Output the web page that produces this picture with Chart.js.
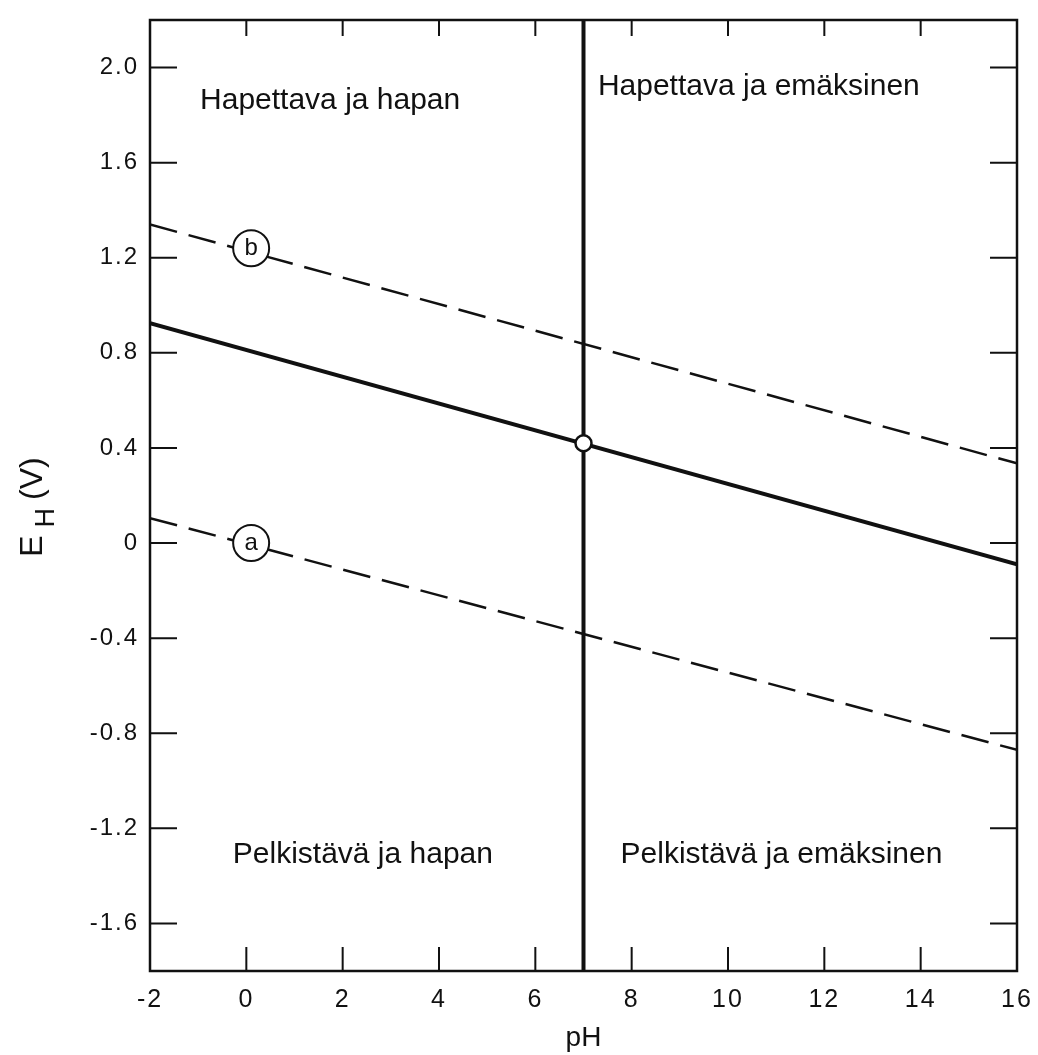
<!DOCTYPE html>
<html>
<head>
<meta charset="utf-8">
<script src="https://cdn.jsdelivr.net/npm/chart.js@4.4.1/dist/chart.umd.min.js"></script>
<style>
  html, body { margin: 0; padding: 0; background: #fff; }
  #wrap { width: 1038px; height: 1055px; }
</style>
</head>
<body>
<div id="wrap"><canvas id="eh" width="1038" height="1055"></canvas></div>
<script>
// --- data ---
const xTicks = [-2, 0, 2, 4, 6, 8, 10, 12, 14, 16];
const xTickLabels = ['-2', '0', '2', '4', '6', '8', '10', '12', '14', '16'];
const yTicks = [-1.6, -1.2, -0.8, -0.4, 0, 0.4, 0.8, 1.2, 1.6, 2.0];
const yTickLabels = ['-1.6', '-1.2', '-0.8', '-0.4', '0', '0.4', '0.8', '1.2', '1.6', '2.0'];

// pH 7 divider
const neutralPH = [7, 7];
const neutralE = [-1.8, 2.2];
// solid line
const solidPH = [-2, 16];
const solidE = [0.925, -0.09];
// dashed line b (upper)
const upperPH = [-2, 16];
const upperE = [1.34, 0.335];
// dashed line a (lower)
const lowerPH = [-2, 16];
const lowerE = [0.105, -0.87];
// circled letters on the dashed lines
const markerPH = [0.1, 0.1];
const markerE = [1.24, 0];
const markerText = ['b', 'a'];
// crossing point
const crossPH = [7];
const crossE = [0.42];
// region captions (baseline anchor in data units)
const regionText = ['Hapettava ja hapan', 'Hapettava ja emäksinen', 'Pelkistävä ja hapan', 'Pelkistävä ja emäksinen'];
const regionPH = [1.74, 10.64, 2.42, 11.11];
const regionE = [1.827, 1.886, -1.347, -1.347];

const pts = (xs, ys) => xs.map((x, i) => ({ x: x, y: ys[i] }));
const INK = '#111';
const FONT = "'Liberation Sans', Arial, sans-serif";

// frame, inward ticks, captions, axis titles
const decor = {
    id: 'decor',
    beforeDraw(chart) {
        // the scanned lettering on the axes is widely spaced
        chart.ctx.letterSpacing = '2px';
    },
    afterDatasetsDraw(chart) {
        const ctx = chart.ctx;
        const a = chart.chartArea;
        const xs = chart.scales.x, ys = chart.scales.y;
        ctx.save();
        ctx.letterSpacing = '0px';
        ctx.strokeStyle = INK;
        ctx.lineWidth = 2.5;
        ctx.strokeRect(a.left, a.top, a.right - a.left, a.bottom - a.top);

        ctx.lineWidth = 2;
        ctx.beginPath();
        xTicks.forEach(v => {
            if (v === xs.min || v === xs.max) return;
            const px = xs.getPixelForValue(v);
            ctx.moveTo(px, a.bottom); ctx.lineTo(px, a.bottom - 24);
            ctx.moveTo(px, a.top); ctx.lineTo(px, a.top + 16);
        });
        yTicks.forEach(v => {
            const py = ys.getPixelForValue(v);
            ctx.moveTo(a.left, py); ctx.lineTo(a.left + 27, py);
            ctx.moveTo(a.right, py); ctx.lineTo(a.right - 27, py);
        });
        ctx.stroke();

        // region captions
        ctx.fillStyle = INK;
        ctx.font = '30px ' + FONT;
        ctx.textAlign = 'center';
        ctx.textBaseline = 'alphabetic';
        regionText.forEach((t, i) => {
            ctx.fillText(t, xs.getPixelForValue(regionPH[i]), ys.getPixelForValue(regionE[i]));
        });

        // letters inside circles
        const meta = chart.getDatasetMeta(4);
        ctx.font = '24px ' + FONT;
        ctx.textBaseline = 'middle';
        meta.data.forEach((el, i) => {
            ctx.fillText(markerText[i], el.x, el.y);
        });

        // x title
        ctx.font = '28px ' + FONT;
        ctx.textBaseline = 'alphabetic';
        ctx.fillText('pH', (a.left + a.right) / 2, 1046);

        // y title E_H (V), rotated
        ctx.translate(42, 507);
        ctx.rotate(-Math.PI / 2);
        ctx.textAlign = 'left';
        const big = '32px ' + FONT, small = '27px ' + FONT;
        ctx.font = big;
        const wE = ctx.measureText('E').width;
        const wV = ctx.measureText('(V)').width;
        ctx.font = small;
        const wH = ctx.measureText('H').width;
        const gap = 8;
        let x = -(wE + gap + wH + gap + wV) / 2;
        ctx.font = big;
        ctx.fillText('E', x, 0);
        x += wE + gap;
        ctx.font = small;
        ctx.fillText('H', x, 12);
        x += wH + gap;
        ctx.font = big;
        ctx.fillText('(V)', x, 0);
        ctx.restore();
    }
};

const lineStyle = (w, dash) => ({
    showLine: true,
    borderColor: INK,
    borderWidth: w,
    borderDash: dash || [],
    pointRadius: 0,
    pointHoverRadius: 0,
    fill: false,
    order: 3
});

new Chart(document.getElementById('eh').getContext('2d'), {
    type: 'scatter',
    data: {
        datasets: [
            Object.assign({ label: 'pH 7', data: pts(neutralPH, neutralE) }, lineStyle(4)),
            Object.assign({ label: 'solid', data: pts(solidPH, solidE) }, lineStyle(4)),
            Object.assign({ label: 'b', data: pts(upperPH, upperE) }, lineStyle(2.5, [28, 12])),
            Object.assign({ label: 'a', data: pts(lowerPH, lowerE) }, lineStyle(2.5, [28, 12])),
            {
                label: 'markers',
                data: pts(markerPH, markerE),
                showLine: false,
                pointRadius: 18,
                pointBackgroundColor: '#fff',
                pointBorderColor: INK,
                pointBorderWidth: 2,
                order: 1
            },
            {
                label: 'cross',
                data: pts(crossPH, crossE),
                showLine: false,
                pointRadius: 8,
                pointBackgroundColor: '#fff',
                pointBorderColor: INK,
                pointBorderWidth: 2.5,
                order: 1
            }
        ]
    },
    options: {
        responsive: false,
        animation: false,
        events: [],
        layout: { padding: { top: 17, right: 21, left: 0, bottom: 0 } },
        plugins: { legend: { display: false }, tooltip: { enabled: false } },
        scales: {
            x: {
                type: 'linear',
                min: -2,
                max: 16,
                grid: { display: false, drawTicks: false },
                border: { display: false },
                afterBuildTicks: s => { s.ticks = xTicks.map(v => ({ value: v })); },
                afterFit: s => { s.height = 84; s.paddingLeft = 0; s.paddingRight = 0; },
                ticks: {
                    padding: 14,
                    color: INK,
                    font: { family: FONT, size: 25 },
                    maxRotation: 0,
                    autoSkip: false,
                    callback: v => {
                        const i = xTicks.findIndex(t => Math.abs(t - v) < 1e-9);
                        return i >= 0 ? xTickLabels[i] : '';
                    }
                }
            },
            y: {
                type: 'linear',
                min: -1.8,
                max: 2.2,
                grid: { display: false, drawTicks: false },
                border: { display: false },
                afterBuildTicks: s => { s.ticks = yTicks.map(v => ({ value: v })); },
                afterFit: s => { s.width = 150; s.paddingTop = 0; s.paddingBottom = 0; },
                ticks: {
                    padding: 11,
                    color: INK,
                    font: { family: FONT, size: 24 },
                    autoSkip: false,
                    callback: v => {
                        const i = yTicks.findIndex(t => Math.abs(t - v) < 1e-9);
                        return i >= 0 ? yTickLabels[i] : '';
                    }
                }
            }
        }
    },
    plugins: [decor]
});
</script>
</body>
</html>
